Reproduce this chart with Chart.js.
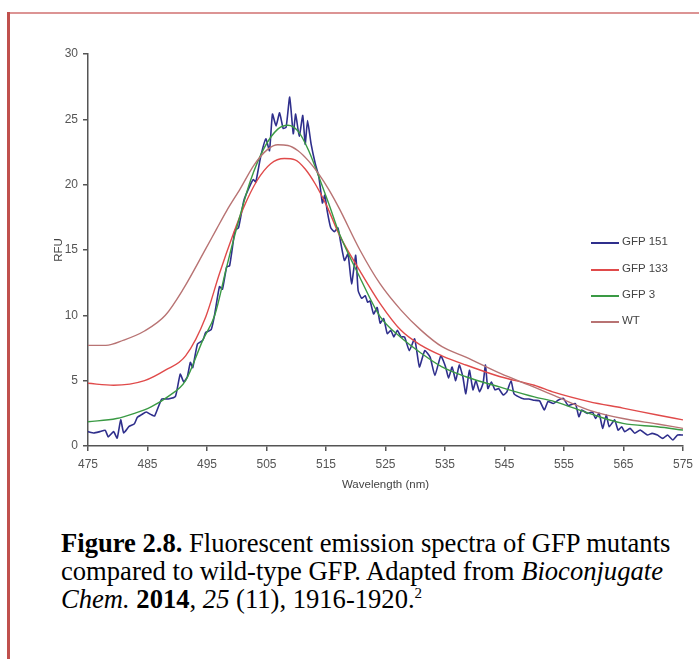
<!DOCTYPE html>
<html>
<head>
<meta charset="utf-8">
<script src="https://cdn.jsdelivr.net/npm/chart.js@4.4.1/dist/chart.umd.min.js"></script>
<style>
    body { margin: 0; background: #fff; width: 699px; height: 659px; position: relative; overflow: hidden; }
    #topLine { position: absolute; left: 7px; top: 12px; right: 0; height: 2px; background: #dc9494; }
    #leftBar { position: absolute; left: 7px; top: 12px; width: 3px; bottom: 0; background: #c0504d; }
    #chart { position: absolute; left: 0; top: 0; }
    .legend-row { position: absolute; left: 591px; height: 14px; font: 11.5px "Liberation Sans", Arial, sans-serif; color: #444; white-space: nowrap; }
    .legend-row span.swatch { position: absolute; left: 0; top: 6px; width: 28px; height: 1.6px; }
    .legend-row span.label { position: absolute; left: 31px; top: -1px; }
    #caption { position: absolute; left: 61px; top: 529px; font-family: "Liberation Serif", "Times New Roman", serif; font-size: 26.6px; line-height: 28px; color: #000; white-space: nowrap; }
    #caption sup { font-size: 15px; vertical-align: 10px; line-height: 0; }
</style>
</head>
<body>
<div id="topLine"></div>
<div id="leftBar"></div>
<canvas id="chart" width="699" height="500"></canvas>
<div id="legend"></div>
<div id="caption">
    <b>Figure 2.8.</b> Fluorescent emission spectra of GFP mutants<br>
    compared to wild-type GFP. Adapted from <i>Bioconjugate</i><br>
    <i>Chem.</i> <b>2014</b>, <i>25</i> (11), 1916-1920.<sup>2</sup>
</div>
<script>
// Valeurs (longueur d'onde en nm, RFU)
const gfp151Nm = [475.0, 476.0, 477.0, 477.9, 478.4, 479.3, 479.9, 480.5, 481.0, 481.9, 482.8, 483.3, 484.0, 484.8, 485.6, 486.2, 487.4, 488.5, 489.7, 490.5,
    491.1, 491.7, 492.2, 492.6, 493.4, 494.3, 494.8, 495.7, 496.3, 497.1, 497.6, 498.3, 498.8, 499.4, 499.7, 500.3, 501.2, 502.3, 502.8, 503.2,
    504.0, 504.9, 505.5, 506.0, 506.6, 507.2, 507.8, 508.3, 508.9, 509.5, 509.9, 510.5, 511.1, 511.5, 511.9, 512.5, 513.2, 513.8, 514.4, 514.8,
    515.2, 515.8, 516.4, 517.0, 517.5, 518.1, 518.7, 519.3, 520.0, 520.4, 521.0, 521.6, 522.0, 522.4, 523.0, 523.6, 524.1, 524.7, 525.3, 525.9,
    526.4, 527.0, 527.6, 528.2, 529.0, 529.9, 530.7, 531.6, 532.5, 533.3, 534.3, 535.1, 535.6, 536.2, 536.8, 537.4, 538.0, 538.5, 539.1, 539.7,
    540.2, 540.8, 541.4, 541.8, 542.2, 542.8, 543.4, 544.0, 544.8, 545.4, 546.1, 546.6, 547.4, 548.3, 549.1, 550.0, 550.9, 551.7, 552.3, 553.2,
    554.0, 554.9, 555.7, 556.9, 557.5, 558.0, 558.9, 559.8, 560.3, 560.9, 561.5, 562.1, 562.6, 563.5, 564.1, 564.7, 565.2, 566.1, 566.9, 567.8,
    569.0, 569.8, 570.7, 571.6, 572.4, 573.3, 574.1, 575.0];
const gfp151Rfu = [1.1, 1.0, 1.1, 1.2, 0.7, 1.1, 0.6, 2.0, 1.0, 1.5, 1.7, 2.2, 2.4, 2.6, 2.4, 2.3, 3.6, 3.6, 3.8, 5.5,
    4.9, 5.3, 6.4, 6.0, 7.8, 8.1, 8.7, 8.9, 10.1, 12.2, 12.0, 13.7, 13.8, 15.6, 16.5, 16.7, 18.8, 20.0, 20.4, 20.2,
    22.1, 23.5, 22.6, 25.4, 24.5, 25.5, 24.3, 24.4, 26.7, 23.9, 25.4, 23.7, 25.3, 23.1, 24.9, 23.1, 21.6, 20.6, 18.6, 19.2,
    18.0, 16.7, 16.4, 16.7, 15.5, 14.2, 14.7, 12.4, 14.6, 11.9, 11.3, 11.5, 11.0, 11.1, 10.1, 10.6, 9.4, 9.75, 8.6, 8.85,
    8.35, 8.85, 8.35, 8.35, 7.3, 8.2, 6.05, 7.3, 6.8, 5.4, 6.9, 6.05, 5.2, 6.05, 5.0, 6.2, 5.3, 4.0, 5.8, 4.3,
    5.0, 4.15, 4.8, 6.2, 4.4, 4.9, 4.3, 4.4, 3.9, 4.15, 5.0, 4.0, 3.76, 3.6, 3.6, 3.5, 3.45, 2.75, 3.4, 3.25,
    3.5, 3.64, 3.1, 3.25, 2.24, 2.75, 2.5, 2.6, 2.1, 2.5, 1.35, 2.37, 1.47, 2.0, 1.22, 1.47, 1.1, 1.35, 0.97, 1.22,
    0.84, 0.97, 0.84, 0.58, 0.84, 0.46, 0.84, 0.84];

const gfp133Nm = [475, 479.3, 484.5, 488, 491.4, 494.8, 497.1, 499.4, 501.2, 503.4, 505.7, 508, 509.8, 511.5, 513.2,
    515.2, 517.2, 520.7, 524.1, 527.6, 531, 534.5, 538.5, 544.3, 550, 553.4, 559.2, 564.9, 570.7, 575];
const gfp133Rfu = [4.8, 4.65, 5.0, 5.8, 6.9, 9.9, 13.2, 16.2, 18.3, 20.3, 21.6, 22.0, 21.9, 21.2, 20.05,
    18.3, 16.2, 13.4, 10.9, 8.85, 7.7, 6.9, 6.2, 5.3, 4.65, 4.1, 3.4, 2.9, 2.37, 2.0];

const gfp3Nm = [475, 479.8, 482.8, 485.6, 488.5, 491.4, 494.3, 496.3, 498.3, 500, 502.3, 504.6, 506.9, 508.6, 510.3, 512.1,
    513.8, 515.5, 517.2, 520.7, 524.1, 527.6, 531, 534.5, 538.5, 544.3, 550, 553.4, 559.2, 564.9, 570.7, 575];
const gfp3Rfu = [1.85, 2.1, 2.5, 3.0, 3.8, 5.0, 8.1, 10.0, 13.7, 16.7, 20.3, 22.8, 24.25, 24.55, 24.1, 22.6,
    20.6, 18.5, 16.3, 12.9, 9.9, 8.3, 7.1, 6.05, 5.3, 4.5, 3.76, 3.4, 2.5, 1.73, 1.47, 1.22];

const wtNm = [475, 478, 481, 484.5, 488, 491, 494.8, 496.6, 498.3, 500.6, 502.9, 505.2, 506.9, 508.6, 510.3, 512.1,
    513.8, 515.5, 517.2, 520.7, 524.1, 527.6, 531, 534.5, 538.5, 544.3, 550, 553.4, 559.2, 564.9, 570.7, 575];
const wtRfu = [7.7, 7.7, 8.1, 8.8, 10.0, 12.0, 15.1, 16.6, 18.0, 19.7, 21.5, 22.7, 23.05, 23.0, 22.6, 21.8,
    20.8, 19.6, 18.2, 15.0, 12.4, 10.4, 8.85, 7.6, 6.8, 5.55, 4.5, 3.85, 2.75, 2.1, 1.68, 1.35];

const seriesNames = ["GFP 151", "GFP 133", "GFP 3", "WT"];
const seriesColors = ["#2f2f8c", "#e04a4a", "#3a9a44", "#b87373"];
const xTicks = [475, 485, 495, 505, 515, 525, 535, 545, 555, 565, 575];

function toPoints(xs, ys) {
    return xs.map((x, i) => ({ x: x, y: ys[i] }));
}

const allSeries = [
    toPoints(gfp151Nm, gfp151Rfu),
    toPoints(gfp133Nm, gfp133Rfu),
    toPoints(gfp3Nm, gfp3Rfu),
    toPoints(wtNm, wtRfu),
];

// Légende dessinée à la main (elle se trouve dans la zone du graphique)
const legend = document.getElementById('legend');
const legendTops = [236, 263, 289, 315];
seriesNames.forEach((name, i) => {
    const row = document.createElement('div');
    row.className = 'legend-row';
    row.style.top = legendTops[i] + 'px';
    row.innerHTML = '<span class="swatch" style="background:' + seriesColors[i] + '"></span><span class="label">' + name + '</span>';
    legend.appendChild(row);
});

Chart.defaults.font.family = '"Liberation Sans", Arial, sans-serif';
Chart.defaults.color = '#555';

const axisColor = '#555';

new Chart(document.getElementById('chart').getContext('2d'), {
    type: 'line',
    data: {
        datasets: allSeries.map((pts, i) => ({
            label: seriesNames[i],
            data: pts,
            borderColor: seriesColors[i],
            borderWidth: i === 0 ? 1.6 : 1.4,
            pointRadius: 0,
            tension: i === 0 ? 0.15 : 0,
            cubicInterpolationMode: i === 0 ? 'default' : 'monotone',
            fill: false,
        })).reverse(),
    },
    options: {
        responsive: false,
        animation: false,
        layout: { padding: { left: 48, right: 15, top: 54, bottom: 8 } },
        plugins: { legend: { display: false }, tooltip: { enabled: false } },
        scales: {
            x: {
                type: 'linear',
                min: 475,
                max: 575,
                afterBuildTicks: (scale) => { scale.ticks = xTicks.map(v => ({ value: v })); },
                afterFit: (scale) => { scale.height = 46; },
                ticks: { font: { size: 12 }, color: '#555', padding: 6, maxRotation: 0 },
                grid: { drawOnChartArea: false, tickLength: 5, color: axisColor, lineWidth: 1.5 },
                border: { color: axisColor, width: 1.5 },
                title: { display: true, text: 'Wavelength (nm)', font: { size: 11.5 }, color: '#444', padding: { top: 0, bottom: 0 } },
            },
            y: {
                min: 0,
                max: 30,
                ticks: { stepSize: 5, font: { size: 12 }, color: '#555', padding: 5 },
                afterFit: (scale) => { scale.width = 40; },
                grid: { drawOnChartArea: false, tickLength: 5, color: axisColor, lineWidth: 1.5 },
                border: { color: axisColor, width: 1.5 },
                title: { display: true, text: 'RFU', font: { size: 11.5 }, color: '#444', padding: { top: 4, bottom: 0 } },
            },
        },
    },
});
</script>
</body>
</html>
